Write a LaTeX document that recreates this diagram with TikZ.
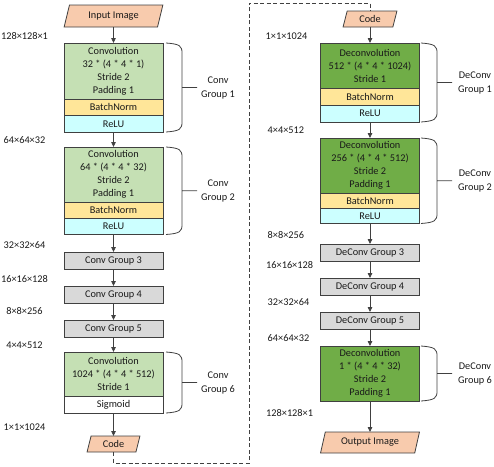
\documentclass[tikz,border=0pt]{standalone}
\usepackage{fontspec}
\setmainfont{Carlito}
\usetikzlibrary{arrows.meta,shapes.geometric}
\definecolor{lgreen}{HTML}{C5E0B4}
\definecolor{dgreen}{HTML}{70AD47}
\definecolor{bnc}{HTML}{FFE699}
\definecolor{reluc}{HTML}{CCFFFF}
\definecolor{grayc}{HTML}{D9D9D9}
\definecolor{peach}{HTML}{F8CBAD}
\definecolor{linec}{HTML}{404040}
\definecolor{txt}{HTML}{1A1A1A}
\newcommand\grpbr[3]{\draw[brc] (#1,#2) .. controls +(14,1) and +(0,-7) .. (#1+16,#2+10) -- (#1+16,#3-10) .. controls +(0,7) and +(14,-1) .. (#1,#3) (#1+16,{(#2+#3)/2}) -- +(15,0);}
\begin{document}
\begin{tikzpicture}[x=1pt,y=-1pt,
  font=\fontsize{10.3}{13}\selectfont, text=txt,
  sect/.style={draw=linec, line width=0.8pt, minimum width=99pt, inner sep=0pt, align=center, anchor=north, outer sep=0pt},
  para/.style={trapezium, trapezium left angle=#1, trapezium right angle=180-#1, trapezium stretches=true, draw=linec, line width=0.8pt, fill=peach, inner sep=0pt, outer sep=0pt},
  arr/.style={draw=linec, line width=0.8pt, -{Triangle[length=5pt,width=4.5pt]}},
  brc/.style={draw=linec, line width=0.8pt},
  dims/.style={inner sep=0pt},
  glab/.style={align=center, inner sep=0pt, font=\fontsize{10.3}{14}\selectfont}]
\useasboundingbox (0,0) rectangle (494,466);
% ---------- left column (encoder)
\node[para=70, minimum width=99pt, minimum height=22pt] (inp) at (113.5,16) {Input Image};
\node[sect, fill=lgreen, minimum height=56pt] (c1a) at (113.5,43) {Convolution\\32 * (4 * 4 * 1)\\Stride 2\\Padding 1};
\node[sect, fill=bnc, minimum height=16.5pt] (c1b) at (113.5,99) {BatchNorm};
\node[sect, fill=reluc, minimum height=16.5pt] (c1c) at (113.5,115.5) {ReLU};
\node[sect, fill=lgreen, minimum height=55pt] (c2a) at (113.5,147) {Convolution\\64 * (4 * 4 * 32)\\Stride 2\\Padding 1};
\node[sect, fill=bnc, minimum height=16pt] (c2b) at (113.5,202) {BatchNorm};
\node[sect, fill=reluc, minimum height=16.5pt] (c2c) at (113.5,218) {ReLU};
\node[sect, fill=grayc, minimum height=17pt] (c3) at (113.5,252) {Conv Group 3};
\node[sect, fill=grayc, minimum height=17pt] (c4) at (113.5,286) {Conv Group 4};
\node[sect, fill=grayc, minimum height=17pt] (c5) at (113.5,320) {Conv Group 5};
\node[sect, fill=lgreen, minimum height=44pt] (c6a) at (113.5,352) {Convolution\\1024 * (4 * 4 * 512)\\Stride 1};
\node[sect, fill=white, minimum height=17pt] (c6b) at (113.5,396) {Sigmoid};
\node[para=75, minimum width=53pt, minimum height=16pt] (codeL) at (113.5,444) {Code};
% arrows left
\draw[arr] (inp) -- (c1a);
\draw[arr] (c1c) -- (c2a);
\draw[arr] (c2c) -- (c3);
\draw[arr] (c3) -- (c4);
\draw[arr] (c4) -- (c5);
\draw[arr] (c5) -- (c6a);
\draw[arr] (c6b) -- (codeL);
% dims left
\node[dims] (l1) at (24.5,36) {128×128×1};
\node[dims] (l2) at (24.5,140) {64×64×32};
\node[dims] (l3) at (24.5,245) {32×32×64};
\node[dims] (l4) at (24.5,279) {16×16×128};
\node[dims] (l5) at (24.5,311) {8×8×256};
\node[dims] (l6) at (24.5,345) {4×4×512};
\node[dims] (l7) at (24.5,427) {1×1×1024};
% braces left
\grpbr{166}{43}{132}
\grpbr{166}{147}{234.5}
\grpbr{166}{352}{413}
\node[glab] (g1) at (218,88) {Conv\\Group 1};
\node[glab] (g2) at (218,190.75) {Conv\\Group 2};
\node[glab] (g6) at (218,382.5) {Conv\\Group 6};
% ---------- right column (decoder)
\node[para=75, minimum width=54pt, minimum height=16pt] (codeR) at (370,19) {Code};
\node[sect, fill=dgreen, minimum height=45pt] (d1a) at (370,43) {Deconvolution\\512 * (4 * 4 * 1024)\\Stride 1};
\node[sect, fill=bnc, minimum height=17pt] (d1b) at (370,88) {BatchNorm};
\node[sect, fill=reluc, minimum height=17pt] (d1c) at (370,105) {ReLU};
\node[sect, fill=dgreen, minimum height=55pt] (d2a) at (370,138) {Deconvolution\\256 * (4 * 4 * 512)\\Stride 2\\Padding 1};
\node[sect, fill=bnc, minimum height=15.5pt] (d2b) at (370,193) {BatchNorm};
\node[sect, fill=reluc, minimum height=15pt] (d2c) at (370,208.5) {ReLU};
\node[sect, fill=grayc, minimum height=17pt] (d3) at (370,244) {DeConv Group 3};
\node[sect, fill=grayc, minimum height=17pt] (d4) at (370,278) {DeConv Group 4};
\node[sect, fill=grayc, minimum height=17pt] (d5) at (370,312) {DeConv Group 5};
\node[sect, fill=dgreen, minimum height=55pt] (d6a) at (370,346) {Deconvolution\\1 * (4 * 4 * 32)\\Stride 2\\Padding 1};
\node[para=70, minimum width=99pt, minimum height=21pt] (outp) at (370,442.5) {Output Image};
% arrows right
\draw[arr] (codeR) -- (d1a);
\draw[arr] (d1c) -- (d2a);
\draw[arr] (d2c) -- (d3);
\draw[arr] (d3) -- (d4);
\draw[arr] (d4) -- (d5);
\draw[arr] (d5) -- (d6a);
\draw[arr] (d6a) -- (outp);
% dims right
\node[dims, anchor=west] (r1) at (265.5,36) {1×1×1024};
\node[dims, anchor=west] (r2) at (267.5,130) {4×4×512};
\node[dims, anchor=west] (r3) at (267.5,235) {8×8×256};
\node[dims, anchor=west] (r4) at (266,265) {16×16×128};
\node[dims, anchor=west] (r5) at (267.5,302) {32×32×64};
\node[dims, anchor=west] (r6) at (267.5,338) {64×64×32};
\node[dims, anchor=west] (r7) at (266,413) {128×128×1};
% braces right
\grpbr{421}{43}{122}
\grpbr{421}{138}{223.5}
\grpbr{421}{346}{401}
\node[glab] (h1) at (475,82.5) {DeConv\\Group 1};
\node[glab] (h2) at (475,180.75) {DeConv\\Group 2};
\node[glab] (h6) at (475,373.5) {DeConv\\Group 6};
% dashed link between the two codes
\coordinate (dA) at (249,463);
\coordinate (dB) at (249,3);
\draw[draw=linec, line width=0.8pt, dash pattern=on 4pt off 2.5pt] (codeL.south) |- (dA) -- (dB) -| (codeR.north);
\end{tikzpicture}
\end{document}
